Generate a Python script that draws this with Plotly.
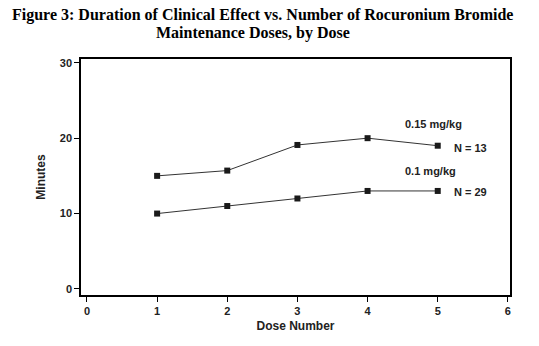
import plotly.graph_objects as go

dose_number = [1, 2, 3, 4, 5]
minutes_015 = [15, 15.7, 19.1, 20, 19]
minutes_01 = [10, 11, 12, 13, 13]

FONT = "Liberation Sans Narrow, Arial Narrow, Liberation Sans, Arial"
SERIF = "Liberation Serif, Times New Roman, serif"

fig = go.Figure()
for y in (minutes_015, minutes_01):
    fig.add_trace(go.Scatter(
        x=dose_number, y=y, mode="lines+markers",
        line=dict(color="#333333", width=1),
        marker=dict(symbol="square", size=6, color="#1a1a1a"),
        showlegend=False, cliponaxis=False))

annots = [
    (4.5, 21.9, "0.15 mg/kg"),
    (5.2, 18.7, "N = 13"),
    (4.5, 15.6, "0.1 mg/kg"),
    (5.2, 12.8, "N = 29"),
]
for x, y, t in annots:
    fig.add_annotation(x=x, y=y, text="<b>%s</b>" % t, showarrow=False,
                       xanchor="left", yanchor="middle",
                       font=dict(family=FONT, size=11, color="#222"))

fig.add_annotation(xref="paper", yref="paper", x=(262 - 81) / 429, y=1.0, yshift=44,
                   xanchor="center", yanchor="middle", showarrow=False,
                   text="<b>Figure 3: Duration of Clinical Effect vs. Number of Rocuronium Bromide</b>",
                   font=dict(family=SERIF, size=16, color="black"))
fig.add_annotation(xref="paper", yref="paper", x=(253 - 81) / 429, y=1.0, yshift=26,
                   xanchor="center", yanchor="middle", showarrow=False,
                   text="<b>Maintenance Doses, by Dose</b>",
                   font=dict(family=SERIF, size=16, color="black"))

axis_common = dict(showline=True, linecolor="black", linewidth=1.5, mirror=True,
                   ticks="outside", ticklen=5, tickcolor="black", tickwidth=1,
                   showgrid=False, zeroline=False,
                   tickfont=dict(family=FONT, size=11, color="#222"))

fig.update_xaxes(range=[-0.085, 6.03], tickvals=[0, 1, 2, 3, 4, 5, 6],
                 ticktext=["<b>%d</b>" % v for v in range(7)],
                 title=dict(text="<b>Dose Number</b>", font=dict(family=FONT, size=12, color="#222"), standoff=6),
                 **axis_common)
fig.update_yaxes(range=[-0.8, 30.5], tickvals=[0, 10, 20, 30],
                 ticktext=["<b>%d</b>" % v for v in (0, 10, 20, 30)],
                 title=dict(text="<b>Minutes</b>", font=dict(family=FONT, size=12, color="#222"), standoff=12),
                 **axis_common)

fig.update_layout(width=539, height=346, margin=dict(l=81, r=29, t=59, b=51),
                  plot_bgcolor="white", paper_bgcolor="white")

fig.write_html("out.html")
